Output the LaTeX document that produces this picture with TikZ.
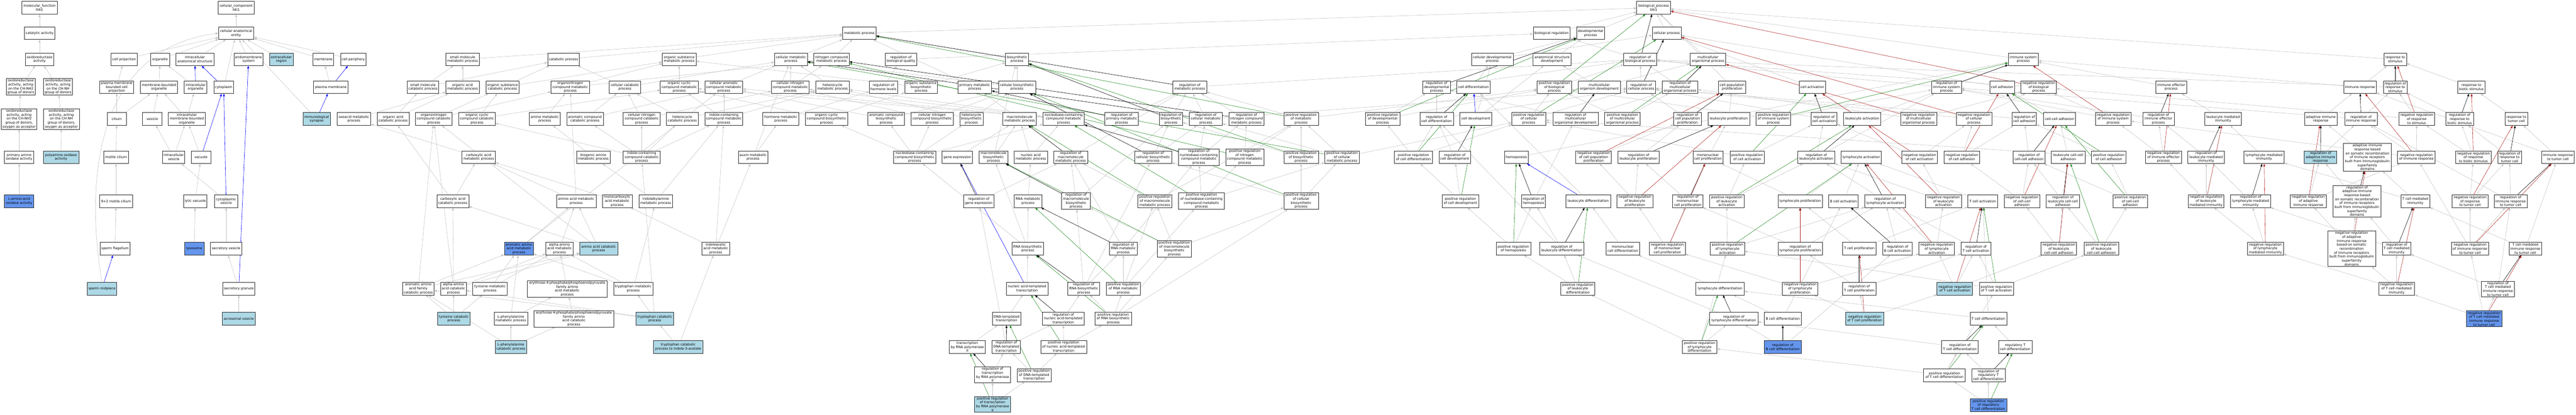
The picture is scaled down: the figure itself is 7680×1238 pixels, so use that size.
\documentclass[tikz,border=0pt]{standalone}
\usepackage{fontspec}
\setmainfont{DejaVu Sans}
\usetikzlibrary{arrows.meta,backgrounds}
\newcommand{\gn}[6][gobox]{\node[#1,minimum width=#5pt] (#2) at (#3,#4) {#6};}
\tikzset{
 gobox/.style={draw={rgb,255:red,40;green,40;blue,40}, line width=1pt, fill=white, inner xsep=2pt, inner ysep=2pt, minimum height=38pt, align=center, font=\fontsize{10}{11.8}\selectfont},
 lb/.style={gobox, fill={rgb,255:red,173;green,216;blue,230}},
 db/.style={gobox, fill={rgb,255:red,100;green,149;blue,237}},
 gtip/.style={-{Triangle[length=8pt,width=6pt]}},
 ge/.style={gtip, draw={rgb,255:red,196;green,196;blue,196}, line width=0.9pt},
 be/.style={gtip, draw=blue, line width=0.9pt},
 gr/.style={gtip, draw={rgb,255:red,34;green,139;blue,34}, line width=0.9pt},
 bk/.style={gtip, draw=black, line width=0.9pt},
 rd/.style={gtip, draw={rgb,255:red,178;green,34;blue,34}, line width=0.9pt},
}
\begin{document}
\begin{tikzpicture}[x=1pt,y=-1pt]
\path[use as bounding box] (0,0) rectangle (7680,1238);
% ---------------- molecular function
\gn{mf}{118}{23}{105}{molecular\_function\\Il4i1}
\gn{cat}{118}{99}{92}{catalytic activity}
\gn{oxr}{118}{177}{85}{oxidoreductase\\activity}
\gn{nh2}{62}{259}{86}{oxidoreductase\\activity, acting\\on the CH-NH2\\group of donors}
\gn{nh}{173}{259}{86}{oxidoreductase\\activity, acting\\on the CH-NH\\group of donors}
\gn{nh2o}{57}{355}{106}{oxidoreductase\\activity, acting\\on the CH-NH2\\group of donors,\\oxygen as acceptor}
\gn{nho}{183}{355}{107}{oxidoreductase\\activity, acting\\on the CH-NH\\group of donors,\\oxygen as acceptor}
\gn{pao}{57}{469}{88}{primary amine\\oxidase activity}
\gn[lb]{pyao}{182}{469}{106}{polyamine oxidase\\activity}
\gn[db]{laao}{57}{600}{88}{L-amino-acid\\oxidase activity}
% ---------------- cellular component
\gn{cc}{704}{23}{107}{cellular\_component\\Il4i1}
\gn{cae}{704}{99}{105}{cellular anatomical\\entity}
\gn{cproj}{370}{177}{79}{cell projection}
\gn{org}{477}{177}{57}{organelle}
\gn{ias}{581}{177}{113}{intracellular\\anatomical structure}
\gn{endo}{741}{177}{87}{endomembrane\\system}
\gn[lb]{exr}{839}{177}{71}{extracellular\\region}
\gn{mem}{964}{177}{62}{membrane}
\gn{cper}{1053}{177}{75}{cell periphery}
\gn{pmbcp}{348}{260}{102}{plasma membrane\\bounded cell\\projection}
\gn{mbo}{474}{260}{111}{membrane-bounded\\organelle}
\gn{iorg}{583}{260}{67}{intracellular\\organelle}
\gn{cyto}{667}{260}{58}{cytoplasm}
\gn{pm}{986}{260}{103}{plasma membrane}
\gn{cil}{348}{355}{57}{cilium}
\gn{ves}{454}{355}{58}{vesicle}
\gn{imbo}{557}{355}{111}{intracellular\\membrane-bounded\\organelle}
\gn[lb]{isyn}{944}{355}{82}{immunological\\synapse}
\gn{mcil}{346}{469}{73}{motile cilium}
\gn{ives}{518}{469}{66}{intracellular\\vesicle}
\gn{vac}{599}{469}{58}{vacuole}
\gn{cves}{674}{600}{69}{cytoplasmic\\vesicle}
\gn{m92}{346}{600}{98}{9+2 motile cilium}
\gn{lvac}{582}{600}{70}{lytic vacuole}
\gn{sflag}{343}{742}{90}{sperm flagellum}
\gn[db]{lyso}{579}{742}{58}{lysosome}
\gn{sves}{674}{742}{95}{secretory vesicle}
\gn[lb]{smid}{304}{861}{88}{sperm midpiece}
\gn{sgran}{712}{861}{96}{secretory granule}
\gn[lb]{acro}{712}{951}{98}{acrosomal vesicle}
% ---------------- biological process: top
\gn{bp}{4930}{23}{101}{biological\_process\\Il4i1}
\gn{breg}{4626}{99}{110}{biological regulation}
\gn{dev}{4742}{99}{83}{developmental\\process}
\gn{cellp}{4969}{99}{86}{cellular process}
\gn{metab}{2562}{99}{100}{metabolic process}
% row C
\gn{smmp}{1379}{177}{100}{small molecule\\metabolic process}
\gn{catp}{1680}{177}{95}{catabolic process}
\gn{osmp}{2025}{177}{101}{organic substance\\metabolic process}
\gn{cmp}{2358}{177}{98}{cellular metabolic\\process}
\gn{ncmp}{2479}{177}{105}{nitrogen compound\\metabolic process}
\gn{rbq}{2686}{177}{94}{regulation of\\biological quality}
\gn{biosyn}{3032}{177}{69}{biosynthetic\\process}
\gn{cdevp}{4449}{177}{124}{cellular developmental\\process}
\gn{asd}{4627}{177}{113}{anatomical structure\\development}
\gn{rbp}{4890}{177}{98}{regulation of\\biological process}
\gn{mop}{5092}{177}{106}{multicellular\\organismal process}
\gn{isp}{6032}{177}{90}{immune system\\process}
\gn{rstim}{7141}{177}{67}{response to\\stimulus}
% row D
\gn{smcp}{1261}{260}{93}{small molecule\\catabolic process}
\gn{oamp}{1379}{260}{100}{organic acid\\metabolic process}
\gn{oscp}{1498}{260}{98}{organic substance\\catabolic process}
\gn{oncmp}{1700}{260}{114}{organonitrogen\\compound metabolic\\process}
\gn{ccp}{1863}{260}{94}{cellular catabolic\\process}
\gn{occmp}{2025}{260}{113}{organic cyclic\\compound metabolic\\process}
\gn{cacmp}{2158}{260}{113}{cellular aromatic\\compound metabolic\\process}
\gn{cncmp}{2356}{260}{113}{cellular nitrogen\\compound metabolic\\process}
\gn{hetmp}{2482}{260}{100}{heterocycle\\metabolic process}
\gn{rhl}{2634}{260}{85}{regulation of\\hormone levels}
\gn{osbp}{2746}{260}{98}{organic substance\\biosynthetic\\process}
\gn{pmp}{2906}{260}{100}{primary metabolic\\process}
\gn{cbp}{3032}{260}{111}{cellular biosynthetic\\process}
\gn{rmp}{3547}{260}{100}{regulation of\\metabolic process}
\gn{rdevp}{4283}{260}{83}{regulation of\\developmental\\process}
\gn{cdiff}{4393}{260}{100}{cell differentiation}
\gn{prbp}{4634}{260}{102}{positive regulation\\of biological\\process}
\gn{mod}{4768}{260}{126}{multicellular\\organism development}
\gn{rcp}{4893}{260}{86}{regulation of\\cellular process}
\gn{rmop}{5009}{260}{106}{regulation of\\multicellular\\organismal process}
\gn{cpp}{5164}{260}{82}{cell population\\proliferation}
\gn{cact}{5403}{260}{79}{cell activation}
\gn{risp}{5803}{260}{89}{regulation of\\immune system\\process}
\gn{cadh}{5969}{260}{73}{cell adhesion}
\gn{nrbp}{6078}{260}{106}{negative regulation\\of biological\\process}
\gn{iep}{6473}{260}{91}{immune effector\\process}
\gn{ir}{7036}{260}{97}{immune response}
\gn{rrs}{7141}{260}{71}{regulation of\\response to\\stimulus}
\gn{rbs}{7368}{260}{82}{response to\\biotic stimulus}
% row E
\gn{oxmp}{1055}{355}{101}{oxoacid metabolic\\process}
\gn{oacp}{1172}{355}{95}{organic acid\\catabolic process}
\gn{onccp}{1293}{355}{108}{organonitrogen\\compound catabolic\\process}
\gn{occcp}{1422}{355}{109}{organic cyclic\\compound catabolic\\process}
\gn{amp}{1624}{355}{92}{amine metabolic\\process}
\gn{accp}{1744}{355}{109}{aromatic compound\\catabolic process}
\gn{cnccp}{1913}{355}{110}{cellular nitrogen\\compound catabolic\\process}
\gn{hetcp}{2034}{355}{94}{heterocycle\\catabolic process}
\gn{icmp}{2158}{355}{113}{indole-containing\\compound metabolic\\process}
\gn{hmp}{2328}{355}{107}{hormone metabolic\\process}
\gn{occbp}{2464}{355}{126}{organic cyclic\\compound biosynthetic\\process}
\gn{acbp}{2642}{355}{109}{aromatic compound\\biosynthetic\\process}
\gn{cncbp}{2779}{355}{126}{cellular nitrogen\\compound biosynthetic\\process}
\gn{hetbp}{2896}{355}{69}{heterocycle\\biosynthetic\\process}
\gn{mmp}{3040}{355}{100}{macromolecule\\metabolic process}
\gn{nbcmp}{3171}{355}{123}{nucleobase-containing\\compound metabolic\\process}
\gn{rpmp}{3344}{355}{100}{regulation of\\primary metabolic\\process}
\gn{rbsp}{3491}{355}{70}{regulation of\\biosynthetic\\process}
\gn{rcmp}{3595}{355}{98}{regulation of\\cellular metabolic\\process}
\gn{rncmp}{3716}{355}{105}{regulation of\\nitrogen compound\\metabolic process}
\gn{prmp}{3879}{355}{103}{positive regulation\\of metabolic\\process}
\gn{prdevp}{4122}{355}{102}{positive regulation\\of developmental\\process}
\gn{rcdiff}{4283}{355}{100}{regulation of\\cell differentiation}
\gn{cdev}{4400}{355}{95}{cell development}
\gn{prcp}{4558}{355}{102}{positive regulation\\of cellular\\process}
\gn{rmod}{4697}{355}{135}{regulation of\\multicellular\\organismal development}
\gn{prmop}{4837}{355}{106}{positive regulation\\of multicellular\\organismal process}
\gn{rcpp}{5031}{355}{82}{regulation of\\cell population\\proliferation}
\gn{lprol}{5154}{355}{124}{leukocyte proliferation}
\gn{prisp}{5287}{355}{103}{positive regulation\\of immune system\\process}
\gn{rcact}{5438}{355}{78}{regulation of\\cell activation}
\gn{lact}{5552}{355}{111}{leukocyte activation}
\gn{nrmop}{5720}{355}{107}{negative regulation\\of multicellular\\organismal process}
\gn{nrcp}{5885}{355}{106}{negative regulation\\of cellular\\process}
\gn{rcadh}{6035}{355}{72}{regulation of\\cell adhesion}
\gn{ccadh}{6140}{355}{96}{cell-cell adhesion}
\gn{nrisp}{6300}{355}{106}{negative regulation\\of immune system\\process}
\gn{riep}{6435}{355}{94}{regulation of\\immune effector\\process}
\gn{lmi}{6628}{355}{109}{leukocyte mediated\\immunity}
\gn{air}{6919}{355}{96}{adaptive immune\\response}
\gn{rir}{7039}{355}{98}{regulation of\\immune response}
\gn{nrrs}{7205}{355}{107}{negative regulation\\of response\\to stimulus}
\gn{rrbs}{7333}{355}{82}{regulation of\\response to\\biotic stimulus}
\gn{rtc}{7502}{355}{67}{response to\\tumor cell}
% row F
\gn{cxmp}{1427}{469}{100}{carboxylic acid\\metabolic process}
\gn{bamp}{1769}{469}{100}{biogenic amine\\metabolic process}
\gn{iccp}{1913}{469}{110}{indole-containing\\compound catabolic\\process}
\gn{auxmp}{2245}{469}{88}{auxin metabolic\\process}
\gn{nbcbp}{2727}{469}{126}{nucleobase-containing\\compound biosynthetic\\process}
\gn{gexp}{2854}{469}{90}{gene expression}
\gn{mbsp}{2962}{469}{85}{macromolecule\\biosynthetic\\process}
\gn{namp}{3073}{469}{100}{nucleic acid\\metabolic process}
\gn{rmmp}{3192}{469}{101}{regulation of\\macromolecule\\metabolic process}
\gn{rcbp}{3438}{469}{110}{regulation of\\cellular biosynthetic\\process}
\gn{rnbcmp}{3574}{469}{122}{regulation of\\nucleobase-containing\\compound metabolic\\process}
\gn{prncmp}{3711}{469}{113}{positive regulation\\of nitrogen\\compound metabolic\\process}
\gn{prbsp}{3879}{469}{103}{positive regulation\\of biosynthetic\\process}
\gn{prcmp}{4001}{469}{103}{positive regulation\\of cellular\\metabolic process}
\gn{prcdiff}{4214}{469}{113}{positive regulation\\of cell differentiation}
\gn{rcdev}{4337}{469}{94}{regulation of\\cell development}
\gn{hemo}{4521}{469}{71}{hemopoiesis}
\gn{nrcpp}{4751}{469}{106}{negative regulation\\of cell population\\proliferation}
\gn{rlprol}{4885}{469}{123}{regulation of\\leukocyte proliferation}
\gn{mcprol}{5092}{469}{90}{mononuclear\\cell proliferation}
\gn{prcact}{5209}{469}{102}{positive regulation\\of cell activation}
\gn{rlact}{5415}{469}{110}{regulation of\\leukocyte activation}
\gn{lyact}{5549}{469}{120}{lymphocyte activation}
\gn{nrcact}{5723}{469}{106}{negative regulation\\of cell activation}
\gn{nrcadh}{5849}{469}{106}{negative regulation\\of cell adhesion}
\gn{rccadh}{6049}{469}{96}{regulation of\\cell-cell adhesion}
\gn{lccadh}{6166}{469}{100}{leukocyte cell-cell\\adhesion}
\gn{prcadh}{6287}{469}{103}{positive regulation\\of cell adhesion}
\gn{nriep}{6450}{469}{108}{negative regulation\\of immune effector\\process}
\gn{rlmi}{6577}{469}{109}{regulation of\\leukocyte mediated\\immunity}
\gn{lymi}{6750}{469}{120}{lymphocyte mediated\\immunity}
\gn[lb]{rair}{6918}{469}{96}{regulation of\\adaptive immune\\response}
\gn{airsr}{7058}{469}{143}{adaptive immune\\response based\\on somatic recombination\\of immune receptors\\built from immunoglobulin\\superfamily\\domains}
\gn{nrir}{7204}{469}{112}{negative regulation\\of immune response}
\gn{nrrbs}{7374}{469}{106}{negative regulation\\of response\\to biotic stimulus}
\gn{rrtc}{7482}{469}{71}{regulation of\\response to\\tumor cell}
\gn{irtc}{7626}{469}{98}{immune response\\to tumor cell}
% row G
\gn{cxcp}{1350}{600}{95}{carboxylic acid\\catabolic process}
\gn{aamp}{1718}{600}{118}{amino acid metabolic\\process}
\gn{mcamp}{1840}{600}{89}{monocarboxylic\\acid metabolic\\process}
\gn{ialmp}{1955}{600}{101}{indolalkylamine\\metabolic process}
\gn{rgexp}{2918}{600}{90}{regulation of\\gene expression}
\gn{rnamp}{3065}{600}{82}{RNA metabolic\\process}
\gn{rmbsp}{3208}{600}{86}{regulation of\\macromolecule\\biosynthetic\\process}
\gn{prmmp}{3443}{600}{102}{positive regulation\\of macromolecule\\metabolic process}
\gn{prnbcmp}{3582}{600}{137}{positive regulation\\of nucleobase-containing\\compound metabolic\\process}
\gn{prcbp}{3879}{600}{103}{positive regulation\\of cellular\\biosynthetic\\process}
\gn{prcdev}{4354}{600}{109}{positive regulation\\of cell development}
\gn{rhemo}{4572}{600}{71}{regulation of\\hemopoiesis}
\gn{ldiff}{4735}{600}{133}{leukocyte differentiation}
\gn{nrlprol}{4874}{600}{107}{negative regulation\\of leukocyte\\proliferation}
\gn{rmcprol}{5032}{600}{90}{regulation of\\mononuclear\\cell proliferation}
\gn{prlact}{5148}{600}{103}{positive regulation\\of leukocyte\\activation}
\gn{lyprol}{5367}{600}{132}{lymphocyte proliferation}
\gn{bcact}{5496}{600}{88}{B cell activation}
\gn{rlyact}{5620}{600}{121}{regulation of\\lymphocyte activation}
\gn{nrlact}{5794}{600}{107}{negative regulation\\of leukocyte\\activation}
\gn{tcact}{5911}{600}{88}{T cell activation}
\gn{nrccadh}{6028}{600}{106}{negative regulation\\of cell-cell\\adhesion}
\gn{rlccadh}{6150}{600}{100}{regulation of\\leukocyte cell-cell\\adhesion}
\gn{prccadh}{6351}{600}{102}{positive regulation\\of cell-cell\\adhesion}
\gn{nrlmi}{6577}{600}{107}{negative regulation\\of leukocyte\\mediated immunity}
\gn{rlymi}{6710}{600}{119}{regulation of\\lymphocyte mediated\\immunity}
\gn{nrair}{6882}{600}{107}{negative regulation\\of adaptive\\immune response}
\gn{rairsr}{7027}{600}{143}{regulation of\\adaptive immune\\response based\\on somatic recombination\\of immune receptors\\built from immunoglobulin\\superfamily\\domains}
\gn{tcmi}{7201}{600}{86}{T cell mediated\\immunity}
\gn{nrrtc}{7364}{600}{107}{negative regulation\\of response\\to tumor cell}
\gn{rirtc}{7485}{600}{98}{regulation of\\immune response\\to tumor cell}
% row H
\gn[db]{aaamp}{1547}{742}{87}{aromatic amino\\acid metabolic\\process}
\gn{a2mp}{1668}{742}{82}{alpha-amino\\acid metabolic\\process}
\gn[lb]{aacp}{1785}{742}{113}{amino acid catabolic\\process}
\gn{iaamp}{2134}{742}{82}{indoleacetic\\acid metabolic\\process}
\gn{rnabp}{3064}{742}{94}{RNA biosynthetic\\process}
\gn{rrnamp}{3349}{742}{82}{regulation of\\RNA metabolic\\process}
\gn{prmbsp}{3501}{742}{102}{positive regulation\\of macromolecule\\biosynthetic\\process}
\gn{prhemo}{4512}{742}{103}{positive regulation\\of hemopoiesis}
\gn{rldiff}{4656}{742}{133}{regulation of\\leukocyte differentiation}
\gn{mcdiff}{4838}{742}{100}{mononuclear\\cell differentiation}
\gn{nrmcprol}{4971}{742}{107}{negative regulation\\of mononuclear\\cell proliferation}
\gn{prlyact}{5150}{742}{103}{positive regulation\\of lymphocyte\\activation}
\gn{rlyprol}{5367}{742}{132}{regulation of\\lymphocyte proliferation}
\gn{tcprol}{5543}{742}{100}{T cell proliferation}
\gn{rbcact}{5657}{742}{88}{regulation of\\B cell activation}
\gn{nrlyact}{5774}{742}{106}{negative regulation\\of lymphocyte\\activation}
\gn{rtcact}{5891}{742}{88}{regulation of\\T cell activation}
\gn{nrlccadh}{6138}{742}{106}{negative regulation\\of leukocyte\\cell-cell adhesion}
\gn{prlccadh}{6265}{742}{102}{positive regulation\\of leukocyte\\cell-cell adhesion}
\gn{nrlymi}{6754}{742}{107}{negative regulation\\of lymphocyte\\mediated immunity}
\gn{nrairsr}{7011}{742}{143}{negative regulation\\of adaptive\\immune response\\based on somatic\\recombination\\of immune receptors\\built from immunoglobulin\\superfamily\\domains}
\gn{rtcmi}{7145}{742}{85}{regulation of\\T cell mediated\\immunity}
\gn{nrirtc}{7364}{742}{111}{negative regulation\\of immune response\\to tumor cell}
\gn{tcmirtc}{7529}{742}{98}{T cell mediated\\immune response\\to tumor cell}
% row I
\gn{aafcp}{1247}{861}{94}{aromatic amino\\acid family\\catabolic process}
\gn{a2cp}{1352}{861}{76}{alpha-amino\\acid catabolic\\process}
\gn{tyrmp}{1461}{861}{103}{tyrosine metabolic\\process}
\gn{e4pmp}{1691}{862}{238}{erythrose 4-phosphate/phosphoenolpyruvate\\family amino\\acid metabolic\\process}
\gn{trpmp}{1888}{861}{117}{tryptophan metabolic\\process}
\gn{nat}{3062}{861}{124}{nucleic acid-templated\\transcription}
\gn{rrnabp}{3231}{861}{95}{regulation of\\RNA biosynthetic\\process}
\gn{prrnamp}{3349}{861}{102}{positive regulation\\of RNA metabolic\\process}
\gn{prldiff}{4704}{861}{102}{positive regulation\\of leukocyte\\differentiation}
\gn{lydiff}{5128}{861}{144}{lymphocyte differentiation}
\gn{nrlyprol}{5367}{861}{106}{negative regulation\\of lymphocyte\\proliferation}
\gn{rtcprol}{5543}{861}{100}{regulation of\\T cell proliferation}
\gn[lb]{nrtcact}{5828}{861}{106}{negative regulation\\of T cell activation}
\gn{prtcact}{5952}{861}{102}{positive regulation\\of T cell activation}
\gn{nrtcmi}{7145}{861}{107}{negative regulation\\of T cell mediated\\immunity}
\gn{rtcmirtc}{7447}{862}{98}{regulation of\\T cell mediated\\immune response\\to tumor cell}
% row J
\gn[lb]{tyrcp}{1353}{951}{97}{tyrosine catabolic\\process}
\gn{lphemp}{1523}{951}{100}{L-phenylalanine\\metabolic process}
\gn{e4pcp}{1711}{951}{238}{erythrose 4-phosphate/phosphoenolpyruvate\\family amino\\acid catabolic\\process}
\gn[lb]{trpcp}{1952}{951}{112}{tryptophan catabolic\\process}
\gn{dnat}{3001}{951}{85}{DNA-templated\\transcription}
\gn{rnat}{3170}{951}{125}{regulation of\\nucleic acid-templated\\transcription}
\gn{prrnabp}{3319}{951}{108}{positive regulation\\of RNA biosynthetic\\process}
\gn{rlydiff}{5169}{951}{143}{regulation of\\lymphocyte differentiation}
\gn{bcdiff}{5315}{951}{111}{B cell differentiation}
\gn[lb]{nrtcprol}{5559}{951}{113}{negative regulation\\of T cell proliferation}
\gn{tcdiff}{5928}{951}{109}{T cell differentiation}
\gn[db]{nrtcmirtc}{7406}{951}{107}{negative regulation\\of T cell mediated\\immune response\\to tumor cell}
% row K
\gn[lb]{lphecp}{1523}{1035}{94}{L-phenylalanine\\catabolic process}
\gn[lb]{trpcpi}{2022}{1035}{147}{tryptophan catabolic\\process to indole-3-acetate}
\gn{tpol2}{2884}{1035}{108}{transcription\\by RNA polymerase\\II}
\gn{rdnat}{3000}{1035}{85}{regulation of\\DNA-templated\\transcription}
\gn{prnat}{3171}{1035}{137}{positive regulation\\of nucleic acid-templated\\transcription}
\gn{prlydiff}{5067}{1035}{103}{positive regulation\\of lymphocyte\\differentiation}
\gn[db]{rbcdiff}{5315}{1035}{111}{regulation of\\B cell differentiation}
\gn{rtcdiff}{5843}{1035}{109}{regulation of\\T cell differentiation}
\gn{rtregdiff}{6008}{1035}{100}{regulatory T\\cell differentiation}
% row L
\gn{rtpol2}{2959}{1118}{107}{regulation of\\transcription\\by RNA polymerase\\II}
\gn{prdnat}{3083}{1119}{102}{positive regulation\\of DNA-templated\\transcription}
\gn{prtcdiff}{5797}{1119}{124}{positive regulation\\of T cell differentiation}
\gn{rrtregdiff}{5928}{1119}{100}{regulation of\\regulatory T\\cell differentiation}
% row M
\gn[lb]{prtpol2}{2959}{1206}{107}{positive regulation\\of transcription\\by RNA polymerase\\II}
\gn[db]{prtregdiff}{5928}{1208}{109}{positive regulation\\of regulatory\\T cell differentiation}
% ================= edges
\begin{pgfonlayer}{background}
\fill[white] (0,0) rectangle (7680,1238);
\foreach \a/\b in {cat/mf,oxr/cat,nh2/oxr,nh/oxr,nh2o/nh2,nho/nh,pao/nh2o,pyao/nho,laao/pao,
 cae/cc,cproj/cae,org/cae,ias/cae,endo/cae,exr/cae,mem/cae,cper/cae,cyto/cae,isyn/cae,pmbcp/cproj,mbo/org,iorg/org,cil/pmbcp,cil/mbo,ves/mbo,imbo/mbo,imbo/iorg,mcil/cil,ives/ves,ives/imbo,vac/imbo,cves/ives,m92/mcil,lvac/vac,sflag/m92,lyso/lvac,sves/cves,sgran/sves,acro/sgran,pm/mem,
 metab/bp,smmp/metab,catp/metab,osmp/metab,cmp/metab,ncmp/metab,pmp/metab,biosyn/metab,
 smcp/smmp,smcp/catp,oamp/smmp,oscp/catp,oscp/osmp,oncmp/osmp,oncmp/ncmp,ccp/catp,ccp/cmp,
 onccp/oncmp,onccp/oscp,oacp/smcp,oacp/oamp,oxmp/oamp,occcp/oscp,occcp/occmp,amp/oncmp,accp/ccp,accp/cacmp,cnccp/ccp,cnccp/cncmp,hetcp/hetmp,hetcp/ccp,
 occmp/osmp,cacmp/cmp,cncmp/cmp,cncmp/ncmp,hetmp/cmp,icmp/cacmp,icmp/hetmp,icmp/occmp,hmp/rhl,occbp/occmp,occbp/osbp,auxmp/hmp,auxmp/cmp,iaamp/auxmp,iaamp/icmp,iaamp/mcamp,trpcpi/iaamp,trpcpi/trpcp,ialmp/icmp,ialmp/bamp,iccp/icmp,iccp/hetcp,iccp/cnccp,iccp/accp,iccp/occcp,bamp/amp,cxmp/oxmp,cxcp/cxmp,cxcp/oacp,aamp/cxmp,aamp/oncmp,mcamp/cxmp,aaamp/aamp,aaamp/cacmp,a2mp/aamp,aacp/aamp,aacp/cxcp,aacp/onccp,aafcp/aaamp,aafcp/aacp,aafcp/onccp,a2cp/cxcp,a2cp/a2mp,a2cp/aacp,a2cp/onccp,tyrmp/aaamp,tyrmp/a2mp,e4pmp/a2mp,trpmp/aaamp,trpmp/a2mp,trpmp/ialmp,tyrcp/tyrmp,tyrcp/a2cp,tyrcp/aafcp,lphemp/aaamp,lphemp/e4pmp,e4pcp/e4pmp,trpcp/trpmp,trpcp/iccp,trpcp/aafcp,trpcp/a2cp,lphecp/lphemp,lphecp/aafcp,lphecp/e4pcp,
 rbq/breg,rhl/rbq,osbp/biosyn,osbp/osmp,cbp/biosyn,cbp/cmp,acbp/cacmp,acbp/cbp,cncbp/cncmp,cncbp/cbp,hetbp/hetmp,hetbp/cbp,mmp/pmp,nbcmp/cacmp,nbcmp/hetmp,nbcmp/cncmp,nbcmp/occmp,nbcbp/acbp,nbcbp/cncbp,nbcbp/hetbp,nbcbp/nbcmp,nbcbp/occbp,gexp/mmp,mbsp/mmp,mbsp/biosyn,namp/nbcmp,namp/mmp,rmmp/rmp,rgexp/rmmp,rnamp/namp,rmbsp/rmmp,rmbsp/rbsp,rnabp/rnamp,rnabp/mbsp,rnabp/nbcbp,nat/rnabp,rrnabp/rrnamp,rrnabp/rmbsp,rrnabp/rcbp,dnat/nat,rnat/rrnabp,prnat/rnat,prnat/prrnabp,tpol2/dnat,rdnat/rnat,rdnat/rgexp,prdnat/rdnat,prdnat/prnat,rtpol2/rdnat,prtpol2/rtpol2,prtpol2/prdnat,
 rmp/rbp,rpmp/rmp,rbsp/rmp,rcmp/rmp,rcmp/rcp,rncmp/rmp,prmp/rmp,prmp/prbp,rcbp/rbsp,rcbp/rcmp,rnbcmp/rcmp,rnbcmp/rncmp,prncmp/rncmp,prncmp/prmp,prbsp/rbsp,prbsp/prmp,prcmp/rcmp,prcmp/prmp,prcmp/prcp,prmmp/rmmp,prmmp/prmp,prnbcmp/rnbcmp,prnbcmp/prncmp,prnbcmp/prcmp,prcbp/rcbp,prcbp/prbsp,prcbp/prcmp,rrnamp/rnbcmp,rrnamp/rmmp,prmbsp/prmmp,prmbsp/rmbsp,prmbsp/prcbp,prrnamp/rrnamp,prrnamp/prnbcmp,prrnamp/prmmp,prrnabp/rrnabp,prrnabp/prrnamp,prrnabp/prmbsp,prrnabp/prcbp,
 prdevp/rdevp,prdevp/prbp,rdevp/rbp,cdevp/dev,cdevp/cellp,cdiff/cdevp,rcdiff/rdevp,rcdiff/rcp,cdev/cdevp,cdev/asd,prcdiff/rcdiff,prcdiff/prdevp,prcdiff/prcp,rcdev/rcdiff,prcdev/rcdev,prcdev/prcdiff,prhemo/prcdev,prhemo/rhemo,
 breg/bp,dev/bp,cellp/bp,mop/bp,cpp/bp,asd/dev,rbp/breg,prbp/rbp,mod/asd,mod/mop,rcp/rbp,rmop/rbp,prcp/rcp,prcp/prbp,rmod/rmop,rmod/rdevp,prmop/prbp,prmop/rmop,rcpp/rcp,lprol/cpp,hemo/isp,nrcpp/rcpp,rlprol/rcpp,mcprol/lprol,rhemo/rmod,ldiff/cdiff,nrlprol/rlprol,nrlprol/nrcpp,rmcprol/rlprol,prlact/rlact,prlact/prcact,rldiff/rhemo,rldiff/rcdiff,mcdiff/ldiff,nrmcprol/nrlprol,nrmcprol/rmcprol,prlyact/prlact,prlyact/rlyact,prldiff/rldiff,prldiff/prhemo,lydiff/mcdiff,rlydiff/rldiff,prlydiff/rlydiff,prlydiff/prldiff,prlydiff/prlyact,
 cact/cellp,risp/rbp,prisp/risp,prisp/prbp,rcact/rcp,lact/cact,lact/isp,nrmop/rmop,nrmop/nrbp,prcact/rcact,prcact/prcp,rlact/rcact,rlact/risp,nrcact/rcact,nrcact/nrcp,lyprol/mcprol,lyprol/lyact,bcact/lyact,rlyact/rlact,nrlact/rlact,nrlact/nrcact,rlyprol/rlyact,rlyprol/rmcprol,tcprol/lyprol,tcprol/tcact,rbcact/rlyact,nrlyact/rlyact,nrlyact/nrlact,nrlyprol/rlyprol,nrlyprol/nrlyact,nrlyprol/nrmcprol,rtcprol/rlyprol,rtcprol/rtcact,nrtcprol/rtcprol,nrtcprol/nrlyprol,nrtcprol/nrtcact,bcdiff/lydiff,bcdiff/bcact,rbcdiff/rlydiff,rbcdiff/rbcact,
 isp/bp,cadh/cellp,nrbp/rbp,nrcp/rcp,nrcp/nrbp,rcadh/rcp,ccadh/cadh,nrisp/risp,nrisp/nrbp,nrcadh/rcadh,nrcadh/nrcp,rccadh/rcadh,lccadh/ccadh,prcadh/rcadh,prcadh/prcp,tcact/lyact,nrccadh/rccadh,nrccadh/nrcadh,rlccadh/rccadh,prccadh/rccadh,prccadh/prcadh,rtcact/rlyact,nrlccadh/rlccadh,nrlccadh/nrccadh,prlccadh/rlccadh,prlccadh/prccadh,nrtcact/rtcact,nrtcact/nrlyact,nrtcact/nrlccadh,prtcact/rtcact,prtcact/prlyact,prtcact/prlccadh,tcdiff/tcact,tcdiff/lydiff,rtcdiff/rlydiff,rtregdiff/tcdiff,prtcdiff/rtcdiff,prtcdiff/prlydiff,prtcdiff/prtcact,rrtregdiff/rtcdiff,prtregdiff/rrtregdiff,prtregdiff/prtcdiff,
 iep/isp,riep/risp,lmi/iep,nriep/riep,nriep/nrisp,rlmi/riep,lymi/lmi,nrlmi/rlmi,nrlmi/nriep,rlymi/rlmi,nrlymi/rlymi,nrlymi/nrlmi,air/ir,rair/rir,nrair/rair,nrair/nrir,airsr/air,rairsr/rair,nrairsr/rairsr,nrairsr/nrair,ir/isp,ir/rstim,rir/risp,rir/rrs,
 rstim/bp,rrs/rbp,rbs/rstim,nrrs/rrs,nrrs/nrbp,rrbs/rrs,rtc/rbs,nrir/rir,nrir/nrrs,nrir/nrisp,nrrbs/rrbs,nrrbs/nrrs,rrtc/rrbs,irtc/rtc,irtc/ir,tcmi/lymi,tcmi/airsr,nrrtc/nrrbs,nrrtc/rrtc,rirtc/rrtc,rirtc/rir,rtcmi/rlymi,rtcmi/rairsr,nrirtc/nrrtc,nrirtc/rirtc,nrirtc/nrir,tcmirtc/irtc,tcmirtc/tcmi,nrtcmi/rtcmi,nrtcmi/nrlymi,nrtcmi/nrairsr,rtcmirtc/rtcmi,rtcmirtc/rirtc,nrtcmirtc/rtcmirtc,nrtcmirtc/nrirtc,nrtcmirtc/nrtcmi}
 \draw[ge] (\a) -- (\b);
\draw[ge] (smid.north) .. controls (262,600) and (255,150) .. (cae.west);
\foreach \a/\b in {iorg/ias,cyto/ias,vac/cyto,cves/cyto,smid/sflag,sgran/endo,pm/cper,isyn/pm,nat/gexp,cdev/cdiff,ldiff/hemo}
 \draw[be] (\a) -- (\b);
\foreach \a/\b in {prbp/bp,prmp/metab,prbsp/biosyn,prcbp/cbp,prcmp/cmp,prncmp/ncmp,prmmp/mmp,prnbcmp/nbcmp,prmbsp/mbsp,prrnamp/rnamp,prrnabp/rnabp,prnat/nat,prdnat/dnat,prtpol2/tpol2,prdevp/dev,prcdiff/cdiff,prcdev/cdev,prcp/cellp,prmop/mop,prhemo/hemo,prlact/lact,prlyact/lyact,prldiff/ldiff,prlydiff/lydiff,prisp/isp,prcact/cact,prcadh/cadh,prccadh/ccadh,prlccadh/lccadh,prtcact/tcact,prtcdiff/tcdiff,prtregdiff/rtregdiff}
 \draw[gr] (\a) -- (\b);
\foreach \a/\b in {rbp/bp,rmp/metab,rbsp/biosyn,rcbp/cbp,rcmp/cmp,rpmp/pmp,rncmp/ncmp,rmmp/mmp,rnbcmp/nbcmp,rgexp/gexp,rmbsp/mbsp,rrnamp/rnamp,rrnabp/rnabp,rnat/nat,rdnat/dnat,rtpol2/tpol2,rdevp/dev,rcdiff/cdiff,rcdev/cdev,rcp/cellp,rmop/mop,rmod/mod,rcpp/cpp,rlprol/lprol,rhemo/hemo,rldiff/ldiff,rmcprol/mcprol,rlydiff/lydiff,risp/isp,rcact/cact,rlact/lact,rlyact/lyact,rlyprol/lyprol,rbcact/bcact,rtcprol/tcprol,rbcdiff/bcdiff,rcadh/cadh,rccadh/ccadh,rlccadh/lccadh,rtcact/tcact,rtcdiff/tcdiff,rrtregdiff/rtregdiff,riep/iep,rlmi/lmi,rlymi/lymi,rair/air,rairsr/airsr,rir/ir,rrs/rstim,rrbs/rbs,rrtc/rtc,rirtc/irtc,rtcmi/tcmi,rtcmirtc/tcmirtc}
 \draw[bk] (\a) -- (\b);
\foreach \a/\b in {nrbp/bp,nrcp/cellp,nrmop/mop,nrcpp/cpp,nrlprol/lprol,nrmcprol/mcprol,nrcact/cact,nrlact/lact,nrlyact/lyact,nrlyprol/lyprol,nrtcprol/tcprol,nrisp/isp,nrcadh/cadh,nrccadh/ccadh,nrlccadh/lccadh,nrtcact/tcact,nriep/iep,nrlmi/lmi,nrlymi/lymi,nrair/air,nrairsr/airsr,nrrs/rstim,nrrbs/rbs,nrrtc/rtc,nrir/ir,nrirtc/irtc,nrtcmi/tcmi,nrtcmirtc/tcmirtc}
 \draw[rd] (\a) -- (\b);
\end{pgfonlayer}
\end{tikzpicture}
\end{document}
